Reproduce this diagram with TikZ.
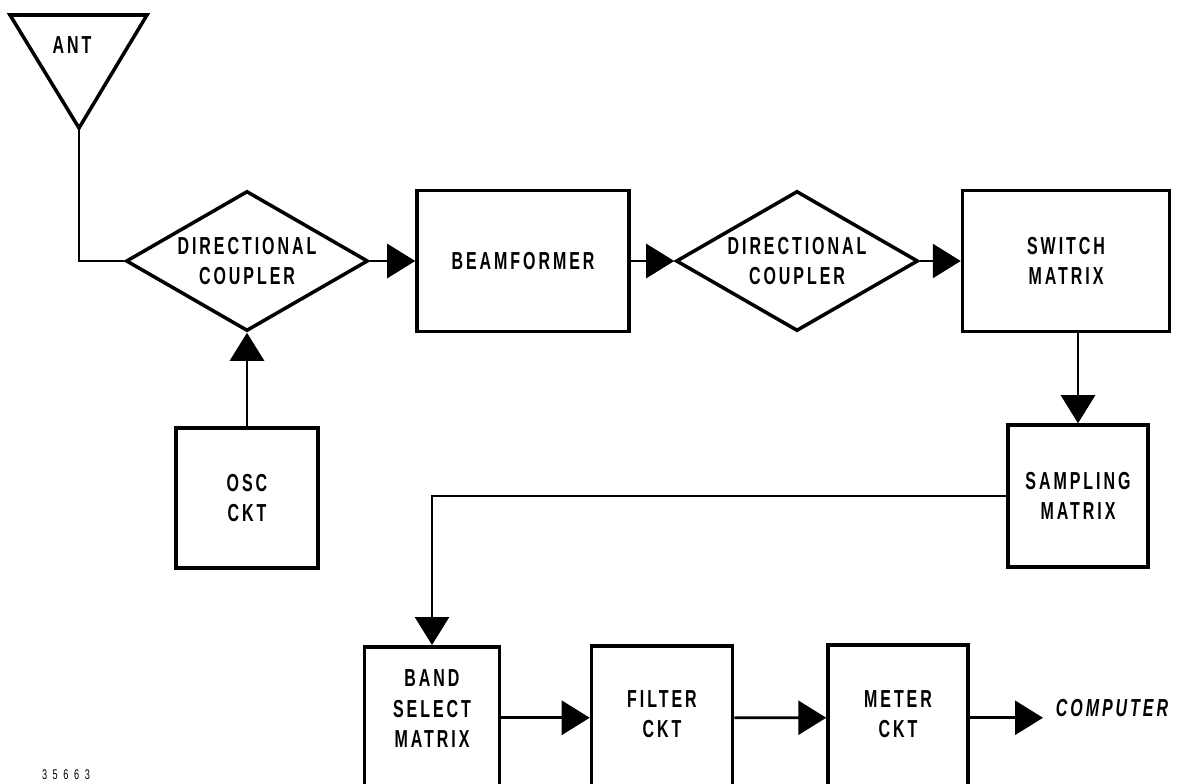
\documentclass[tikz,border=0pt]{standalone}
\usepackage{fontspec}
\newfontfamily\lbl[FakeStretch=0.65,LetterSpace=12]{Liberation Sans}
\newfontfamily\numfont[FakeStretch=0.65,LetterSpace=40]{Liberation Sans}
\usetikzlibrary{arrows.meta}
\usetikzlibrary{shapes}

\begin{document}
\begin{tikzpicture}[x = 0.2mm, y = -0.2mm, font=\lbl\bfseries\fontsize{14}{17.5}\selectfont]
	\tikzstyle{boxStyle} = [draw, line width = 2pt, inner sep = 0pt, align = center]
	\tikzstyle{openStyle} = [boxStyle, anchor = north]
	\tikzstyle{diamondStyle} = [shape = diamond, draw, line width = 2pt, inner sep = 0pt, aspect = 1.74, minimum width = 48.4mm, minimum height = 28mm, align = center]
	\tikzstyle{EdgeStyle} = [line width = 1.6pt, -{Triangle[length = 5.6mm, width = 6.8mm]}]
	\tikzstyle{LineStyle} = [line width = 1.6pt]
	\useasboundingbox (0,0) rectangle (1185,783);
	\clip (0,0) rectangle (1185,783);
	% antenna
	\coordinate (antL) at (10,15);
	\coordinate (antR) at (147,15);
	\coordinate (antTip) at (79,128);
	\draw[line width = 2pt] (antL) -- (antR) -- (antTip) -- cycle;
	\node (ant) at (72,45) {ANT};
	% top row
	\node[diamondStyle] (dc1) at (247,261) {DIRECTIONAL\\COUPLER};
	\node[boxStyle, minimum width = 42.4mm, minimum height = 28.2mm] (beam) at (523,261) {BEAMFORMER};
	\node[diamondStyle] (dc2) at (797,261) {DIRECTIONAL\\COUPLER};
	\node[boxStyle, minimum width = 41.4mm, minimum height = 28.2mm] (sw) at (1066,261) {SWITCH\\MATRIX};
	\node[boxStyle, minimum width = 28.4mm, minimum height = 28mm] (osc) at (247,498) {OSC\\CKT};
	\node[boxStyle, minimum width = 28mm, minimum height = 28.4mm] (samp) at (1078,496) {SAMPLING\\MATRIX};
	% bottom row, boxes run past the lower edge
	\node[openStyle, minimum width = 27mm, text height = 20.2mm, text depth = 8.2mm] (band) at (432,645) {BAND\\SELECT\\MATRIX};
	\node[openStyle, minimum width = 28.2mm, text height = 18.4mm, text depth = 10.4mm] (filt) at (662,644) {FILTER\\CKT};
	\node[openStyle, minimum width = 28mm, text height = 18.6mm, text depth = 10.6mm] (met) at (898,643) {METER\\CKT};
	\node[font=\lbl\bfseries\itshape\fontsize{14}{17.5}\selectfont] (comp) at (1112,708) {COMPUTER};
	\coordinate (out) at (1043,716);
	\node[font=\numfont\fontsize{8}{9}\selectfont] (num) at (66,775) {35663};
	% connectors
	\draw[LineStyle] (antTip) |- (dc1.west);
	\draw[EdgeStyle] (dc1.east) -- (beam.west);
	\draw[EdgeStyle] (osc.north) -- (dc1.south);
	\draw[EdgeStyle] (beam.east) -- (dc2.west);
	\draw[EdgeStyle] (dc2.east) -- (sw.west);
	\draw[EdgeStyle] (samp.north |- sw.south) -- (samp.north);
	\draw[EdgeStyle] (samp.west) -| (band.north);
	\draw[EdgeStyle] (band.east) -- (filt.west);
	\draw[EdgeStyle] (filt.east) -- (met.west);
	\draw[EdgeStyle] (met.east) -- (met.east -| out);
\end{tikzpicture}
\end{document}
